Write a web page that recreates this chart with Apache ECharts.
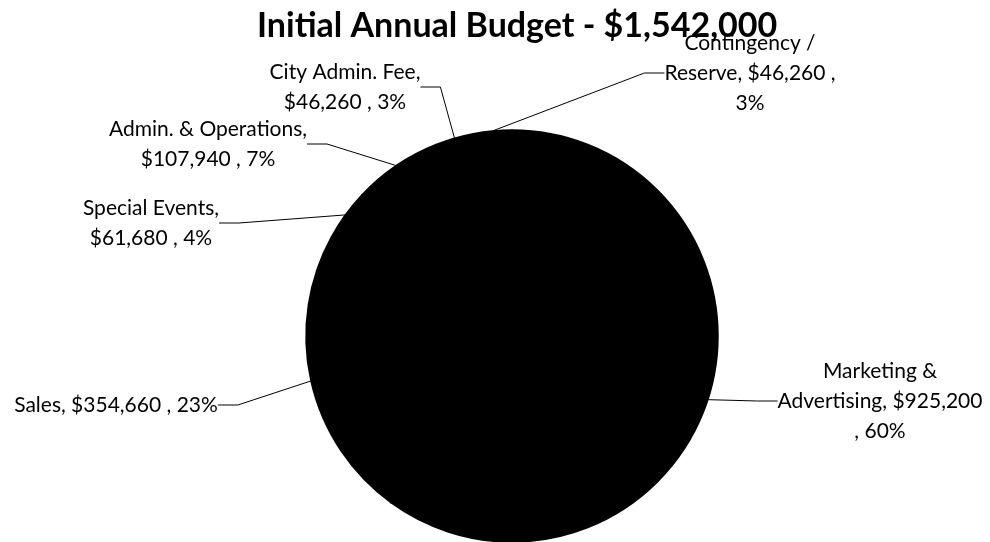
<!DOCTYPE html>
<html>
<head>
<meta charset="utf-8">
<script src="https://cdn.jsdelivr.net/npm/echarts@6/dist/echarts.min.js"></script>
<style>
  html, body { margin: 0; padding: 0; background: #fff; }
  #chart { width: 990px; height: 542px; }
</style>
</head>
<body>
<div id="chart"></div>
<script>
// ---- data ----
const titleText = 'Initial Annual Budget - $1,542,000';
const categories = ['Marketing &\nAdvertising', 'Sales', 'Special Events', 'Admin. & Operations', 'City Admin. Fee', 'Contingency /\nReserve'];
const values = [925200, 354660, 61680, 107940, 46260, 46260];
// text joiners as wrapped in the original labels: [after name, after value]
const joinAfterName = [', $', ', $', ',\n$', ',\n$', ',\n$', ', $'];
const joinAfterValue = ['\n, ', ' , ', ' , ', ' , ', ' , ', ' ,\n'];
// label anchor positions (layout only)
const labelPos = [[880, 401], [116, 405], [151, 223], [208, 144], [345, 87], [750, 73]];

const chart = echarts.init(document.getElementById('chart'), null, { renderer: 'canvas' });
const FONT = 'Lato, "Open Sans", sans-serif';

chart.setOption({
  animation: false,
  backgroundColor: '#ffffff',
  title: {
    text: titleText,
    left: 252,
    top: 4,
    textStyle: { fontFamily: FONT, fontWeight: 'bold', fontSize: 34, color: '#000' }
  },
  series: [{
    type: 'pie',
    center: [512, 336],
    radius: 206,
    startAngle: 90,
    clockwise: true,
    avoidLabelOverlap: false,
    itemStyle: { color: '#000', borderColor: '#000', borderWidth: 1.5 },
    emphasis: { disabled: true },
    label: {
      show: true,
      color: '#000',
      fontFamily: FONT,
      fontSize: 21,
      lineHeight: 30,
      align: 'center',
      formatter: function (p) {
        const i = p.dataIndex;
        return p.name + joinAfterName[i] + p.value.toLocaleString('en-US') + joinAfterValue[i] + Math.round(p.percent) + '%';
      }
    },
    labelLine: {
      show: true,
      length: 20,
      length2: 20,
      lineStyle: { color: '#000', width: 1 }
    },
    labelLayout: function (params) {
      const pos = labelPos[params.dataIndex];
      return { x: pos[0], y: pos[1], align: 'center', verticalAlign: 'middle' };
    },
    data: categories.map((c, i) => ({ name: c, value: values[i] }))
  }]
});
</script>
</body>
</html>
